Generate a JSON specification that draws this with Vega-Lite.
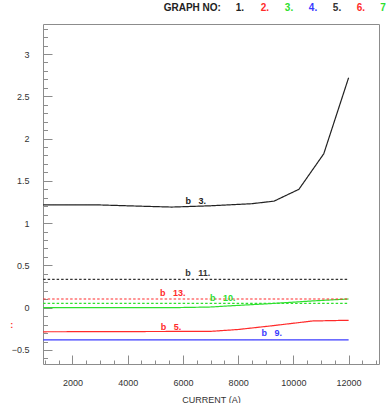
{
  "$schema": "https://vega.github.io/schema/vega-lite/v6.json",
  "width": 336,
  "height": 340,
  "autosize": "none",
  "padding": {"left": 43, "top": 24, "right": 7, "bottom": 39},
  "background": "white",
  "config": {
    "font": "Liberation Sans",
    "view": {"stroke": "#8c8c8c", "strokeWidth": 1},
    "axis": {"domain": false, "grid": false, "tickColor": "#8c8c8c", "labelColor": "#333", "labelFont": "Liberation Sans", "labelFontSize": 9, "titleFont": "Liberation Sans"}
  },
  "datasets": {
    "lines": [
      {"graph": 1, "current": 940, "value": 1.215},
      {"graph": 1, "current": 3000, "value": 1.215},
      {"graph": 1, "current": 4500, "value": 1.2},
      {"graph": 1, "current": 5600, "value": 1.19},
      {"graph": 1, "current": 7000, "value": 1.205},
      {"graph": 1, "current": 8500, "value": 1.23},
      {"graph": 1, "current": 9300, "value": 1.26},
      {"graph": 1, "current": 10200, "value": 1.4},
      {"graph": 1, "current": 11100, "value": 1.82},
      {"graph": 1, "current": 12000, "value": 2.72},
      {"graph": 2, "current": 940, "value": -0.285},
      {"graph": 2, "current": 7000, "value": -0.28},
      {"graph": 2, "current": 8000, "value": -0.258},
      {"graph": 2, "current": 9250, "value": -0.213},
      {"graph": 2, "current": 10700, "value": -0.157},
      {"graph": 2, "current": 12000, "value": -0.149},
      {"graph": 3, "current": 940, "value": 0},
      {"graph": 3, "current": 5600, "value": 0},
      {"graph": 3, "current": 7000, "value": 0.008},
      {"graph": 3, "current": 7600, "value": 0.02},
      {"graph": 3, "current": 9000, "value": 0.045},
      {"graph": 3, "current": 10700, "value": 0.08},
      {"graph": 3, "current": 12000, "value": 0.103},
      {"graph": 4, "current": 940, "value": -0.38},
      {"graph": 4, "current": 12000, "value": -0.38},
      {"graph": 5, "current": 940, "value": 0.336},
      {"graph": 5, "current": 12000, "value": 0.336},
      {"graph": 6, "current": 940, "value": 0.103},
      {"graph": 6, "current": 12000, "value": 0.103},
      {"graph": 7, "current": 940, "value": 0.05},
      {"graph": 7, "current": 12000, "value": 0.05}
    ],
    "labels": [
      {"graph": 1, "label": "b\u00a0\u00a0\u00a03.", "current": 6467, "value": 1.26},
      {"graph": 5, "label": "b\u00a0\u00a0\u00a011.", "current": 6540, "value": 0.41},
      {"graph": 6, "label": "b\u00a0\u00a0\u00a013.", "current": 5634, "value": 0.175},
      {"graph": 3, "label": "b\u00a0\u00a0\u00a010.", "current": 7446, "value": 0.115},
      {"graph": 2, "label": "b\u00a0\u00a0\u00a05.", "current": 5565, "value": -0.228},
      {"graph": 4, "label": "b\u00a0\u00a0\u00a09.", "current": 9221, "value": -0.3},
      {"graph": 2, "label": ":", "current": -199, "value": -0.205}
    ],
    "header": [
      {"graph": 1, "label": "GRAPH NO:", "current": 6340, "value": 3.544},
      {"graph": 1, "label": "1.", "current": 8065, "value": 3.544},
      {"graph": 2, "label": "2.", "current": 8971, "value": 3.544},
      {"graph": 3, "label": "3.", "current": 9841, "value": 3.544},
      {"graph": 4, "label": "4.", "current": 10710, "value": 3.544},
      {"graph": 5, "label": "5.", "current": 11580, "value": 3.544},
      {"graph": 6, "label": "6.", "current": 12446, "value": 3.544},
      {"graph": 7, "label": "7", "current": 13250, "value": 3.544}
    ]
  },
  "resolve": {"axis": {"x": "independent", "y": "independent"}},
  "layer": [
    {
      "data": {"name": "lines"},
      "mark": {"type": "line", "clip": false},
      "encoding": {
        "x": {"field": "current", "type": "quantitative", "scale": {"domain": [935, 13100], "nice": false, "zero": false},
          "axis": {"orient": "bottom", "values": [2000, 4000, 6000, 8000, 10000, 12000], "format": "d", "tickSize": -9, "labelPadding": 23, "title": "CURRENT (A)", "titleFontSize": 9, "titleFontWeight": "normal", "titleColor": "#333", "titlePadding": 8}},
        "y": {"field": "value", "type": "quantitative", "scale": {"domain": [-0.666, 3.355], "nice": false, "zero": false},
          "axis": {"orient": "left", "values": [-0.5, 0, 0.5, 1, 1.5, 2, 2.5, 3], "format": "~g", "tickSize": -9, "labelPadding": 23, "title": null}},
        "color": {"field": "graph", "type": "nominal", "legend": null,
          "scale": {"domain": [1, 2, 3, 4, 5, 6, 7], "range": ["#222222", "#ff2a2a", "#2ee02e", "#3a3aff", "#333333", "#ff2a2a", "#2ee02e"]}},
        "strokeDash": {"field": "graph", "type": "nominal", "legend": null,
          "scale": {"domain": [1, 2, 3, 4, 5, 6, 7], "range": [[1, 0], [1, 0], [1, 0], [1, 0], [2.5, 2], [2.5, 2], [2.5, 2]]}},
        "strokeWidth": {"field": "graph", "type": "nominal", "legend": null,
          "scale": {"domain": [1, 2, 3, 4, 5, 6, 7], "range": [1.2, 1.2, 1.2, 1.3, 0.9, 0.9, 0.9]}}
      }
    },
    {
      "data": {"name": "lines"},
      "mark": {"type": "point", "opacity": 0},
      "encoding": {
        "x": {"field": "current", "type": "quantitative",
          "axis": {"orient": "bottom", "values": [1000, 1500, 2500, 3000, 3500, 4500, 5000, 5500, 6500, 7000, 7500, 8500, 9000, 9500, 10500, 11000, 11500, 12500, 13000], "tickSize": -4, "labels": false, "title": null}},
        "y": {"field": "value", "type": "quantitative",
          "axis": {"orient": "left", "values": [-0.6, -0.4, -0.3, -0.2, -0.1, 0.1, 0.2, 0.3, 0.4, 0.6, 0.7, 0.8, 0.9, 1.1, 1.2, 1.3, 1.4, 1.6, 1.7, 1.8, 1.9, 2.1, 2.2, 2.3, 2.4, 2.6, 2.7, 2.8, 2.9, 3.1, 3.2, 3.3], "tickSize": -4.5, "labels": false, "title": null}}
      }
    },
    {
      "data": {"name": "labels"},
      "mark": {"type": "text", "font": "Liberation Sans", "fontSize": 9, "fontWeight": "bold", "baseline": "middle", "align": "center"},
      "encoding": {
        "x": {"field": "current", "type": "quantitative", "axis": null},
        "y": {"field": "value", "type": "quantitative", "axis": null},
        "text": {"field": "label"},
        "color": {"field": "graph", "type": "nominal", "legend": null}
      }
    },
    {
      "data": {"name": "header"},
      "mark": {"type": "text", "font": "Liberation Sans", "fontSize": 10, "fontWeight": "bold", "baseline": "middle", "align": "center"},
      "encoding": {
        "x": {"field": "current", "type": "quantitative", "axis": null},
        "y": {"field": "value", "type": "quantitative", "axis": null},
        "text": {"field": "label"},
        "color": {"field": "graph", "type": "nominal", "legend": null}
      }
    }
  ]
}
